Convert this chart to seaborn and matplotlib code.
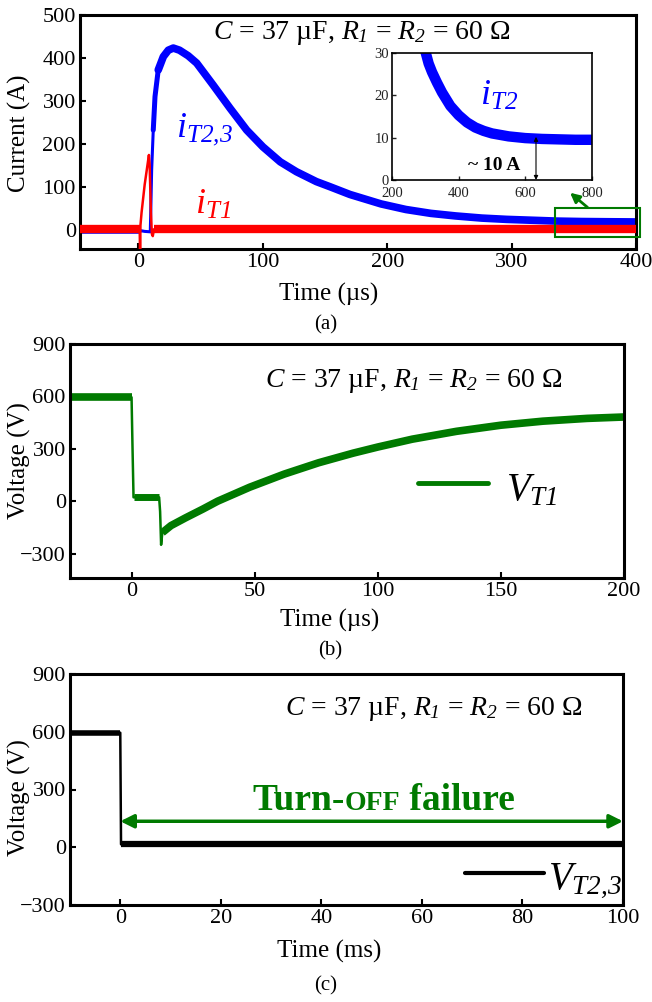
import numpy as np
import matplotlib
matplotlib.use("Agg")
import matplotlib.pyplot as plt
import seaborn as sns
from matplotlib.patches import Rectangle
from matplotlib.lines import Line2D

# ---------------- data ----------------
# (a) currents, time in us
iT23_t = [-47, 1.0, 1.2, 5, 9.5, 9.8, 10.6, 11.9, 13.3, 15.9, 20, 24, 28, 33, 40,
          46.8, 60, 73.6, 87, 100, 114, 127, 143, 154, 170, 195, 215, 235, 255,
          276, 296, 316, 336, 356, 376, 400]
iT23_v = [-6, -6, -2, -4, -5, 30, 139, 232, 310, 372, 403, 418, 423, 418, 405,
          388, 337, 283, 232, 193, 158, 135, 112, 100, 82, 60, 47, 38, 32, 27,
          24, 22, 20, 19, 18.5, 18]
iT1_t = [-47, 1.0, 1.3, 1.6, 2.5, 5, 8.4, 9.0, 10.0, 10.8, 11.5, 12.5, 400]
iT1_v = [1, 1, -60, 10, 40, 105, 174, 150, 40, -10, -15, 1, 1]
# inset of (a)
iT2_t = [298, 310, 320, 335, 350, 375, 400, 425, 450, 475, 500, 550, 600, 650,
         700, 750, 800]
iT2_v = [31, 27.5, 25.5, 23, 20.7, 17.5, 15.3, 13.6, 12.4, 11.6, 11, 10.3, 9.9,
         9.7, 9.6, 9.5, 9.5]
# (b) V_T1, time in us
vT1_t = [-25, 0, 0.4, 0.8, 11.2, 11.6, 12, 12.5, 16, 22, 29, 35, 48, 62, 76, 90,
         100, 114, 132, 150, 167, 185, 200]
vT1_v = [595, 595, 300, 22, 22, -60, -250, -180, -140, -95, -45, 0, 80, 155, 220,
         275, 310, 355, 400, 435, 458, 474, 482]
# (c) V_T2,3, time in ms
vT23_t = [-10, 0, 0.15, 100]
vT23_v = [595, 595, 15, 15]

xticks_a = [0, 100, 200, 300, 400]
yticks_a = [0, 100, 200, 300, 400, 500]
xticks_in = [200, 400, 600, 800]
yticks_in = [0, 10, 20, 30]
xticks_b = [0, 50, 100, 150, 200]
yticks_b = [-300, 0, 300, 600, 900]
xticks_c = [0, 20, 40, 60, 80, 100]
yticks_c = [-300, 0, 300, 600, 900]

# ---------------- style ----------------
sns.set_style("ticks")
plt.rcParams["font.family"] = ["Liberation Serif", "DejaVu Serif"]
plt.rcParams["mathtext.fontset"] = "custom"
plt.rcParams["mathtext.rm"] = "Liberation Serif:italic"
plt.rcParams["mathtext.it"] = "Liberation Serif:italic"
plt.rcParams["mathtext.bf"] = "Liberation Serif:bold"
for k in ["text.color", "axes.labelcolor", "xtick.color", "ytick.color",
          "axes.edgecolor"]:
    plt.rcParams[k] = "black"

BLUE = "#0000ff"
RED = "#ff0000"
GREEN = "#007a00"
BLACK = "#000000"

W, H = 652, 1002
fig = plt.figure(figsize=(W / 100, H / 100), dpi=100)
fig.patch.set_facecolor("white")


def rect(l, t, r, b):
    return [l / W, 1 - b / H, (r - l) / W, (b - t) / H]


def fx(x):
    return x / W


def fy(y):
    return 1 - y / H


def trace(ax, t, v, color, lw, lo=None, hi=None, z=2, cap="butt"):
    t = np.asarray(t, float)
    v = np.asarray(v, float)
    m = np.ones(len(t), bool) if lo is None else (t >= lo) & (t <= hi)
    sns.lineplot(x=t[m], y=v[m], ax=ax, color=color, linewidth=lw,
                 estimator=None, sort=False, zorder=z, legend=False,
                 solid_capstyle=cap, solid_joinstyle="round")


def style(ax, xlim, ylim, xt, yt, lw=2.2, ls=16):
    ax.set_xlim(*xlim)
    ax.set_ylim(*ylim)
    ax.set_xticks(xt)
    ax.set_yticks(yt)
    ax.set_xlabel("")
    ax.set_ylabel("")
    for s in ax.spines.values():
        s.set_visible(True)
        s.set_linewidth(lw)
        s.set_color("black")
    ax.tick_params(direction="in", length=4, width=1.5, labelsize=ls,
                   top=False, right=False, pad=3, colors="black")


# ---------------- panel (a) ----------------
axa = fig.add_axes(rect(80, 15, 636, 249))
trace(axa, iT23_t, iT23_v, BLUE, 2.2, z=2)
trace(axa, iT23_t, iT23_v, BLUE, 3.6, 11.9, 24, z=2, cap="round")
trace(axa, iT23_t, iT23_v, BLUE, 5.5, 15.9, 400, z=2, cap="round")
trace(axa, iT1_t, iT1_v, RED, 1.8, z=3)
trace(axa, iT1_t, iT1_v, RED, 6.0, -47, 1.0, z=3)
trace(axa, iT1_t, iT1_v, RED, 6.0, 12.5, 400, z=3)
style(axa, (-47, 400), (-45, 500), xticks_a, yticks_a)

axa.add_patch(Rectangle((335, -17), 68, 67, fill=False, edgecolor=GREEN,
                        linewidth=1.5, clip_on=False, zorder=5))
axa.annotate("", xy=(347, 86), xytext=(361, 52),
             arrowprops=dict(arrowstyle="-|>", color=GREEN, lw=2,
                             mutation_scale=14, shrinkA=0, shrinkB=0),
             annotation_clip=False)

# inset
axi = fig.add_axes(rect(392, 53, 592, 180))
trace(axi, iT2_t, iT2_v, BLUE, 7.5)
style(axi, (200, 800), (0, 30), xticks_in, yticks_in, lw=1.2, ls=10.5)
axi.tick_params(length=3, width=1, pad=2, colors="#222222")
axi.tick_params(axis="x", pad=5)
axi.annotate("", xy=(632, 10.2), xytext=(632, 0),
             arrowprops=dict(arrowstyle="<|-|>", color="black", lw=0.8,
                             mutation_scale=6, shrinkA=0, shrinkB=0))
fig.text(fx(494), fy(165), "~ 10 A", fontsize=14, weight="bold",
         ha="center", va="center")
fig.text(fx(480), fy(105), r"$i_{T2}$", fontsize=26,
         color=BLUE, ha="left", va="baseline")

fig.text(fx(176), fy(136), r"$i_{T2{,}3}$", fontsize=26,
         color=BLUE, ha="left", va="baseline")
fig.text(fx(195), fy(214), r"$i_{T1}$", fontsize=26,
         color=RED, ha="left", va="baseline")

TITLE = r"$C$ = 37 µF, $R_{1}$ = $R_{2}$ = 60 Ω"
fig.text(fx(213), fy(39), TITLE, fontsize=20, ha="left", va="baseline")
fig.text(fx(19), fy(133), "Current (A)", fontsize=18, rotation=90,
         ha="center", va="center")
fig.text(fx(329), fy(294), "Time (µs)", fontsize=18, ha="center", va="center")
fig.text(fx(326), fy(325), "(a)", fontsize=15, ha="center", va="center")

# ---------------- panel (b) ----------------
axb = fig.add_axes(rect(70, 344, 624, 578))
trace(axb, vT1_t, vT1_v, GREEN, 1.8)
trace(axb, vT1_t, vT1_v, GREEN, 5.5, -25, 0)
trace(axb, vT1_t, vT1_v, GREEN, 5.0, 0.8, 11.2)
trace(axb, vT1_t, vT1_v, GREEN, 5.5, 12.5, 200)
style(axb, (-25, 200), (-440, 900), xticks_b, yticks_b)
fig.text(fx(265), fy(387), TITLE, fontsize=20, ha="left", va="baseline")
fig.add_artist(Line2D([fx(418), fx(488)], [fy(483), fy(483)], color=GREEN,
                      lw=3.5, solid_capstyle="round"))
fig.text(fx(506), fy(500), r"$V_{T1}$", fontsize=28,
         ha="left", va="baseline")
fig.text(fx(19), fy(461), "Voltage (V)", fontsize=18, rotation=90,
         ha="center", va="center")
fig.text(fx(330), fy(620), "Time (µs)", fontsize=18, ha="center", va="center")
fig.text(fx(330), fy(651), "(b)", fontsize=15, ha="center", va="center")

# ---------------- panel (c) ----------------
axc = fig.add_axes(rect(70, 674, 623, 905))
trace(axc, vT23_t, vT23_v, BLACK, 1.8)
trace(axc, vT23_t, vT23_v, BLACK, 4.0, -10, 0)
trace(axc, vT23_t, vT23_v, BLACK, 4.5, 0.15, 100)
style(axc, (-10, 100), (-300, 900), xticks_c, yticks_c)
axc.annotate("", xy=(0, 135), xytext=(100, 135),
             arrowprops=dict(arrowstyle="<|-|>", color=GREEN, lw=2.5,
                             mutation_scale=20, shrinkA=0, shrinkB=0),
             annotation_clip=False)
fig.text(fx(285), fy(715), TITLE, fontsize=20, ha="left", va="baseline")
fig.add_artist(Line2D([fx(465), fx(544)], [fy(873), fy(873)], color=BLACK,
                      lw=3.0))
fig.text(fx(548), fy(888), r"$V_{T2{,}3}$", fontsize=28,
         ha="left", va="baseline")
fig.text(fx(19), fy(798), "Voltage (V)", fontsize=18, rotation=90,
         ha="center", va="center")
fig.text(fx(329), fy(951), "Time (ms)", fontsize=18, ha="center", va="center")
fig.text(fx(326), fy(986), "(c)", fontsize=15, ha="center", va="center")

# "Turn-OFF failure" with small caps OFF
fig.canvas.draw()
renderer = fig.canvas.get_renderer()
parts = [("Turn-", 27), ("OFF", 20), (" failure", 27)]
x0 = 252
for txt, size in parts:
    t = fig.text(fx(x0), fy(810), txt, fontsize=size, weight="bold",
                 color=GREEN, ha="left", va="baseline")
    bb = t.get_window_extent(renderer)
    x0 = bb.x1

fig.savefig("out.png", dpi=100, facecolor="white")
